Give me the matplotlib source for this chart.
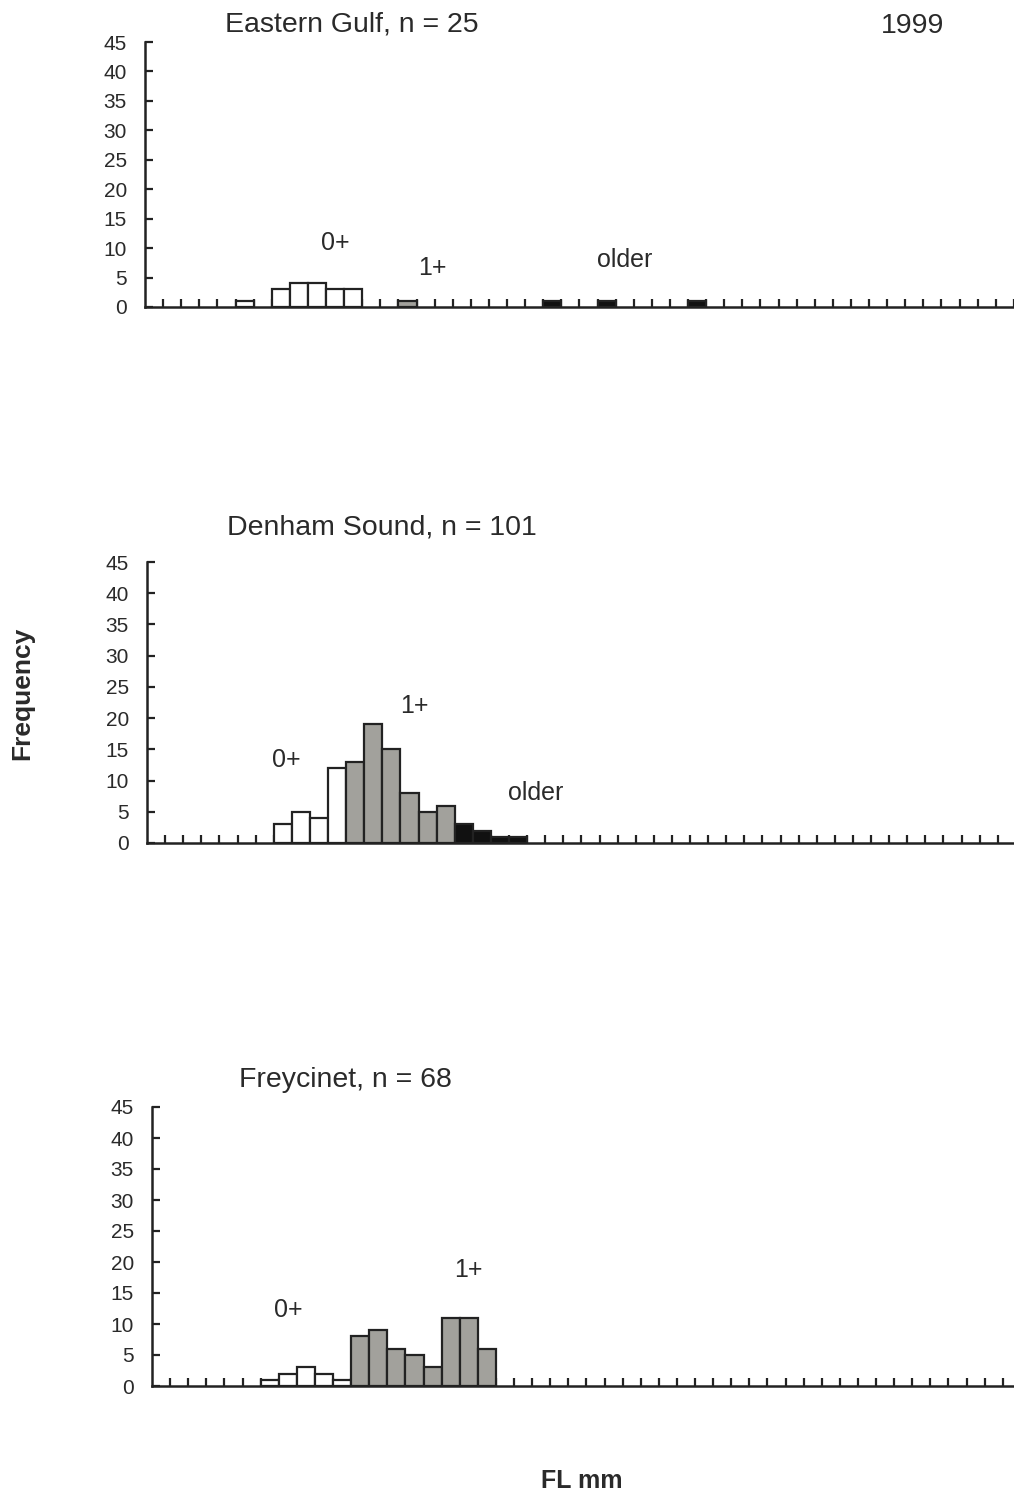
import numpy as np
import matplotlib
matplotlib.use("Agg")
import matplotlib.pyplot as plt

plt.rcParams['font.family'] = ['Liberation Sans', 'DejaVu Sans']

# bins are counted in length-class steps from the y axis
top_bins = [5, 7, 8, 9, 10, 11, 14, 22, 25, 30]
top_counts = [1, 3, 4, 4, 3, 3, 1, 1, 1, 1]
top_class = ['0+', '0+', '0+', '0+', '0+', '0+', '1+', 'older', 'older', 'older']

mid_bins = [7, 8, 9, 10, 11, 12, 13, 14, 15, 16, 17, 18, 19, 20]
mid_counts = [3, 5, 4, 12, 13, 19, 15, 8, 5, 6, 3, 2, 1, 1]
mid_class = ['0+'] * 4 + ['1+'] * 6 + ['older'] * 4

bot_bins = [6, 7, 8, 9, 10, 11, 12, 13, 14, 15, 16, 17, 18]
bot_counts = [1, 2, 3, 2, 1, 8, 9, 6, 5, 3, 11, 11, 6]
bot_class = ['0+'] * 5 + ['1+'] * 8

titles = ['Eastern Gulf, n = 25', 'Denham Sound, n = 101', 'Freycinet, n = 68']
yticks = [0, 5, 10, 15, 20, 25, 30, 35, 40, 45]

colors = {'0+': 'white', '1+': '#a2a19c', 'older': '#111111'}
edge = '#222222'

W, H = 1014, 1494
fig = plt.figure(figsize=(W / 100, H / 100), dpi=100)

# pixel boxes: (left, axis zero y, top y)
boxes = [(145, 307, 42), (147, 843, 562), (152, 1386, 1107)]
binpx = 18.1

panels = [
    (top_bins, top_counts, top_class,
     [('0+', 10.5, 10.9), ('1+', 15.9, 6.6), ('older', 26.5, 8.0)], (11.4, 48.0)),
    (mid_bins, mid_counts, mid_class,
     [('0+', 7.7, 13.3), ('1+', 14.75, 22.0), ('older', 21.5, 8.0)], (13.0, 50.6)),
    (bot_bins, bot_counts, bot_class,
     [('0+', 7.55, 12.3), ('1+', 17.5, 18.7)], (10.7, 49.4)),
]

txtcol = '#2a2a2a'
for (left, y0, y45), (bins, counts, cls, labels, tpos), title in zip(boxes, panels, titles):
    ax = fig.add_axes([left / W, 1 - y0 / H, (W - left) / W, (y0 - y45) / H])
    nb = (W - left) / binpx
    ax.bar(bins, counts, width=1, align='edge',
           color=[colors[c] for c in cls], edgecolor=edge, linewidth=1.6, zorder=3)
    ax.set_xlim(0, nb)
    ax.set_ylim(0, 45)
    ax.set_yticks(yticks)
    ax.set_xticks(np.arange(1, int(nb) + 1))
    ax.set_xticklabels([])
    ax.tick_params(axis='y', direction='in', length=6, width=1.6, labelsize=15,
                   pad=13, colors='#222222', labelcolor=txtcol)
    ax.tick_params(axis='x', direction='in', length=6, width=1.6, colors='#222222')
    for s in ['top', 'right']:
        ax.spines[s].set_visible(False)
    for s in ['left', 'bottom']:
        ax.spines[s].set_linewidth(1.8)
        ax.spines[s].set_color('#222222')
    for txt, x, y in labels:
        ax.text(x, y, txt, ha='center', va='center', fontsize=18, color=txtcol)
    ax.text(tpos[0], tpos[1], title, ha='center', va='center', fontsize=20.5,
            color=txtcol, clip_on=False)
    if title.startswith('Eastern'):
        ax.text(42.4, 47.7, '1999', ha='center', va='center', fontsize=20.5,
                color=txtcol, clip_on=False)

fig.text(22 / W, 1 - 693 / H, 'Frequency', rotation=90, ha='center', va='center',
         fontsize=19, fontweight='bold', color=txtcol)
fig.text(582 / W, 1 - 1481 / H, 'FL mm', ha='center', va='center',
         fontsize=18, fontweight='bold', color=txtcol)

fig.savefig('out.png', dpi=100)
